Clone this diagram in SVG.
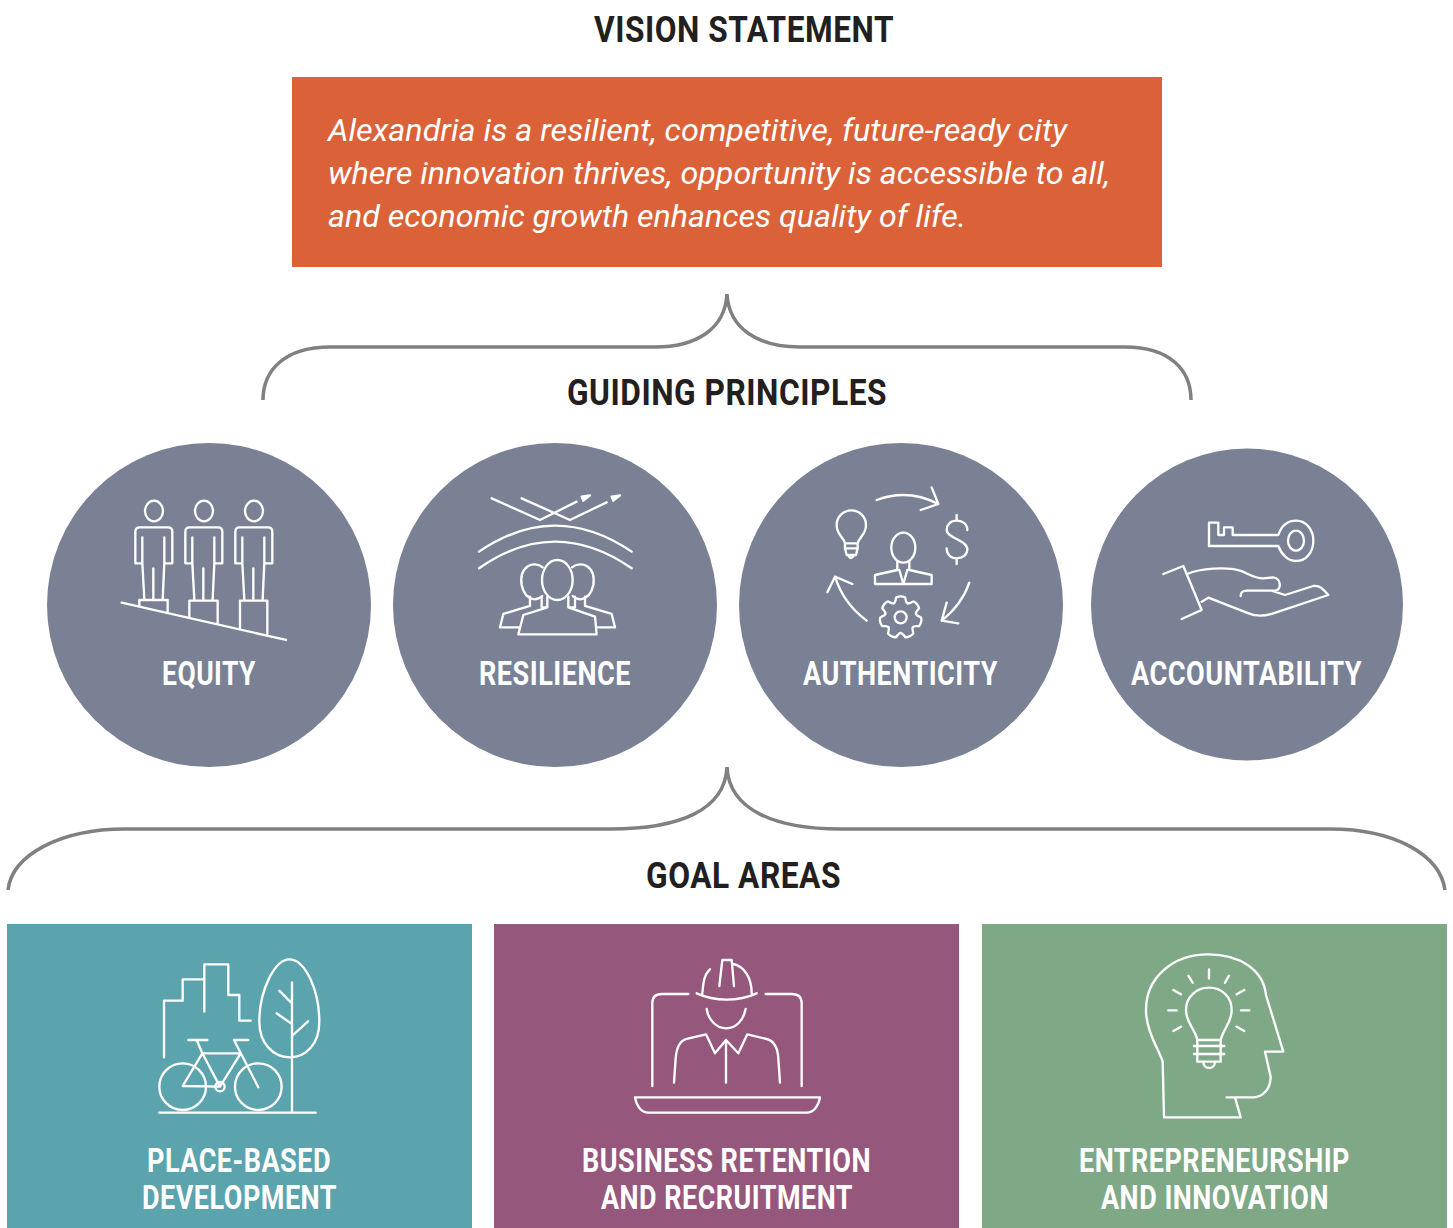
<svg xmlns="http://www.w3.org/2000/svg" xmlns:xlink="http://www.w3.org/1999/xlink" width="1453" height="1228" viewBox="0 0 1453 1228">
<style>
.h{font-family:Roboto,"Liberation Sans",sans-serif;font-weight:700;font-size:37px;letter-spacing:.6px;fill:#231f20}
.l{font-family:Roboto,"Liberation Sans",sans-serif;font-weight:700;font-size:33px;letter-spacing:.6px;fill:#fff}
.v{font-family:Roboto,"Liberation Sans",sans-serif;font-weight:400;font-style:italic;font-size:31.500px;fill:#fff}
.ic{fill:none;stroke:#fff;stroke-width:7;stroke-linecap:round;stroke-linejoin:round}
.br{fill:none;stroke:#808080;stroke-width:3.5}
.c{fill:#7a8195}
</style>
<defs>
<g id="person">
<ellipse cx="162" cy="93" rx="27" ry="31"/>
<path d="M127,172V250H106V155Q106,142 119,142H204Q217,142 217,155V250H193V172M127,250L133,358M193,250L188,358M160,265V358"/>
</g>
<path id="tooth" d="M-20.400,-42.300C-14,-45 -16,-54 -13,-60Q0,-66 13,-60C16,-54 14,-45 20.400,-42.300"/>
</defs>
<rect width="1453" height="1228" fill="#fff"/>
<g id="connectors">
<path class="br" d="M263,400C263,370 285,347 330,347H655C695,347 725,330 727,294C729,330 760,347 800,347H1125C1170,347 1191,370 1191,400"/>
<path class="br" d="M8,890C12,855 60,829 125,829H610C680,829 725,810 727,767C729,810 775,829 840,829H1330C1395,829 1440,855 1445,890"/>
</g>
<g id="vision">
<text class="h" x="594" y="42" textLength="300" lengthAdjust="spacingAndGlyphs">VISION STATEMENT</text>
<rect x="292" y="77" width="870" height="190" fill="#db6238"/>
<text class="v" x="328" y="141" textLength="739" lengthAdjust="spacingAndGlyphs">Alexandria is a resilient, competitive, future-ready city</text>
<text class="v" x="328" y="184" textLength="782" lengthAdjust="spacingAndGlyphs">where innovation thrives, opportunity is accessible to all,</text>
<text class="v" x="328" y="227" textLength="638" lengthAdjust="spacingAndGlyphs">and economic growth enhances quality of life.</text>
</g>
<g id="guiding-title"><text class="h" x="567" y="405" textLength="320" lengthAdjust="spacingAndGlyphs">GUIDING PRINCIPLES</text></g>
<g id="goal-title"><text class="h" x="646" y="888" textLength="195" lengthAdjust="spacingAndGlyphs">GOAL AREAS</text></g>
<g id="equity">
<circle class="c" cx="209" cy="605" r="162"/>
<g class="ic" transform="translate(100,480) scale(.3333)">
<use xlink:href="#person" href="#person"/>
<use xlink:href="#person" href="#person" x="150"/>
<use xlink:href="#person" href="#person" x="300"/>
<path d="M65,368L558,480M118,378V360H203V398M268,412V362H353V430M420,445V362H502V462"/>
</g>
<text class="l" x="162" y="685" textLength="94" lengthAdjust="spacingAndGlyphs">EQUITY</text>
</g>
<g id="resilience">
<circle class="c" cx="555" cy="605" r="162"/>
<g class="ic" transform="translate(460,480) scale(.3333)">
<path d="M95,55L240,120L350,65M185,55L330,120L440,67M57,215Q285,59 515,215M57,265Q285,105 515,265"/>
<path d="M365,50L390,46L370,62ZM455,50L480,46L460,62Z" fill="#fff"/>
<ellipse cx="292" cy="300" rx="46" ry="60"/>
<path d="M248,262C235,250 215,252 205,258C185,270 182,295 185,315C190,340 205,355 222,358C232,358 240,355 247,348M336,262C350,250 370,252 380,258C400,270 403,295 400,315C395,340 380,355 362,358C352,358 345,355 338,348"/>
<path d="M210,350V378L130,402L120,442H175M262,350V382L190,405L175,463H410L405,410L325,382V350M245,350V382H262M345,350V382H325M375,350V378L455,402L465,442H410"/>
</g>
<text class="l" x="479" y="685" textLength="152" lengthAdjust="spacingAndGlyphs">RESILIENCE</text>
</g>
<g id="authenticity">
<circle class="c" cx="901" cy="605" r="162"/>
<g class="ic" transform="translate(810,480) scale(.3333)">
<path d="M200,60Q295,25 385,72M365,22L385,72L332,90M478,308Q455,375 395,422M410,368L395,422L445,430M170,422Q100,370 75,290M52,337L75,290L127,312"/>
<path d="M105,190C100,170 80,165 80,135A44,44 0 0 1 168,135C168,165 148,170 143,190V205L138,225H110L105,205ZM105,190H143M105,205H143M115,225Q122,243 133,225"/>
<path d="M472,150C472,130 455,122 440,122C420,122 410,135 410,150C410,175 472,180 472,208C472,225 458,235 440,235C422,235 410,222 410,205M440,105V122M440,235V252"/>
<ellipse cx="280" cy="203" rx="36" ry="45"/>
<path d="M262,245V270L195,285V312H365V285L298,270V245M268,270L280,312L292,270"/>
<circle cx="272" cy="412" r="18"/>
<g transform="translate(272,412)">
<use href="#tooth" xlink:href="#tooth"/><use href="#tooth" xlink:href="#tooth" transform="rotate(51.430)"/><use href="#tooth" xlink:href="#tooth" transform="rotate(102.860)"/><use href="#tooth" xlink:href="#tooth" transform="rotate(154.290)"/><use href="#tooth" xlink:href="#tooth" transform="rotate(205.710)"/><use href="#tooth" xlink:href="#tooth" transform="rotate(257.140)"/><use href="#tooth" xlink:href="#tooth" transform="rotate(308.570)"/>
</g>
</g>
<text class="l" x="803" y="685" textLength="195" lengthAdjust="spacingAndGlyphs">AUTHENTICITY</text>
</g>
<g id="accountability">
<circle class="c" cx="1247" cy="604.500" r="156"/>
<g class="ic" transform="translate(1150,500) scale(.3333)">
<path d="M385,105H248V82H222V105H205V68H177V138H385C395,165 415,183 438,183C470,183 490,155 490,122C490,90 470,62 438,62C415,62 395,75 385,105Z"/>
<ellipse cx="438" cy="122" rx="24" ry="30"/>
<path d="M40,222L100,198L155,330L95,357M112,222C150,205 230,200 270,212C295,220 310,235 340,235L370,232C395,235 395,272 375,272H290C275,272 272,280 272,288M155,305L175,293L290,338C315,350 340,350 370,340L535,285C520,268 510,255 490,258L405,285L365,272"/>
</g>
<text class="l" x="1131" y="685" textLength="231" lengthAdjust="spacingAndGlyphs">ACCOUNTABILITY</text>
</g>
<g id="place-based">
<rect x="7" y="924" width="465" height="304" fill="#5ba3ad"/>
<g class="ic" transform="translate(150,950) scale(.3333)">
<path d="M42,322V152H98V88H163M163,185V43H235V135H268V212H302"/>
<path d="M426,97V488M420,322C370,322 328,280 328,215C328,120 375,28 418,28C465,28 508,120 508,215C508,280 470,322 420,322ZM388,122L426,160M380,190L426,222M474,214L426,258M28,488H497"/>
<circle cx="98" cy="410" r="70"/><circle cx="325" cy="410" r="70"/>
<path d="M98,408L157,310H272L210,410ZM157,310L210,410M115,270H172M140,270L157,310M252,270H295M252,270L325,412"/>
<circle cx="210" cy="410" r="14"/>
</g>
<text class="l" x="147" y="1172" textLength="184" lengthAdjust="spacingAndGlyphs">PLACE-BASED</text>
<text class="l" x="142" y="1209" textLength="195" lengthAdjust="spacingAndGlyphs">DEVELOPMENT</text>
</g>
<g id="business">
<rect x="494" y="924" width="465" height="304" fill="#96577d"/>
<g class="ic" transform="translate(625,950) scale(.3333)">
<path d="M215,130C270,155 340,155 395,130M255,58C235,75 235,105 232,130M325,42C360,50 380,85 380,130M283,108L292,30H320L327,108"/>
<path d="M82,408V160Q82,132 110,132H190M422,132H500Q530,132 530,160V408"/>
<path d="M245,177C250,210 275,235 303,235C335,235 355,210 362,177"/>
<path d="M147,398L152,325C155,290 165,272 185,267L243,253L270,310L303,270L340,310L367,253L425,267C445,272 458,290 460,325L465,398M303,270V398"/>
<path d="M30,442H585C580,470 565,488 545,488H70C50,488 35,470 30,442Z"/>
</g>
<text class="l" x="582" y="1172" textLength="289" lengthAdjust="spacingAndGlyphs">BUSINESS RETENTION</text>
<text class="l" x="601" y="1209" textLength="252" lengthAdjust="spacingAndGlyphs">AND RECRUITMENT</text>
</g>
<g id="entrepreneurship">
<rect x="982" y="924" width="465" height="304" fill="#7fa986"/>
<g class="ic" transform="translate(1130,945) scale(.3333)">
<path d="M102,517L98,350C90,320 48,260 48,195C48,100 125,28 235,28C330,28 400,75 408,150L460,320H405L422,395C422,430 400,457 370,457H290M315,457L332,517H102"/>
<path d="M202,285C195,250 168,235 168,195C168,155 200,128 237,128C275,128 305,155 305,195C305,235 280,250 272,285ZM202,285V350H272V285M192,303H283M192,327H283M220,350C220,375 255,375 255,350"/>
<path d="M237,73V100M175,92L188,113M297,92L285,113M130,135L153,148M343,135L320,148M115,196H140M333,196H358M130,258L153,245M343,258L320,245"/>
</g>
<text class="l" x="1079" y="1172" textLength="271" lengthAdjust="spacingAndGlyphs">ENTREPRENEURSHIP</text>
<text class="l" x="1101" y="1209" textLength="228" lengthAdjust="spacingAndGlyphs">AND INNOVATION</text>
</g>
</svg>
